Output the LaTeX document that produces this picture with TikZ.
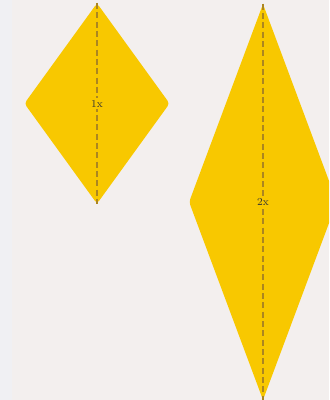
\documentclass[tikz,border=0pt]{standalone}
\usepackage{tikz}
\usetikzlibrary{shapes.geometric}
\definecolor{KiteYellow}{RGB}{248,200,0}
\definecolor{AxisBrown}{RGB}{172,134,32}
\definecolor{PaperBg}{RGB}{243,239,238}
\definecolor{StripBg}{RGB}{240,240,243}

\begin{document}
\begin{tikzpicture}[
    x=0.75pt, y=-0.75pt,
    kite/.style={
        diamond,
        fill=KiteYellow,
        inner sep=0pt,
        rounded corners=2.5pt
    },
    axis/.style={draw=AxisBrown, line width=0.8pt, dash pattern=on 4.5pt off 2.5pt},
    tag/.style={fill=KiteYellow, inner sep=1.5pt, font=\footnotesize, text=black!80}
]

% page
\useasboundingbox (0,0) rectangle (329,400);
\clip (0,0) rectangle (329,400);
\fill[StripBg] (0,0) rectangle (12,400);
\fill[PaperBg] (12,0) rectangle (329,400);

% small kite
\node[kite, minimum width=109pt, minimum height=150.5pt] (one) at (97,103.5) {};
\draw[axis] (one.north) -- (one.south);
\node[tag] (onetag) at (one.center) {1x};

% tall kite
\node[kite, minimum width=111pt, minimum height=297pt] (two) at (263,202) {};
\draw[axis] (two.north) -- (two.south);
\node[tag] (twotag) at (two.center) {2x};

\end{tikzpicture}
\end{document}
